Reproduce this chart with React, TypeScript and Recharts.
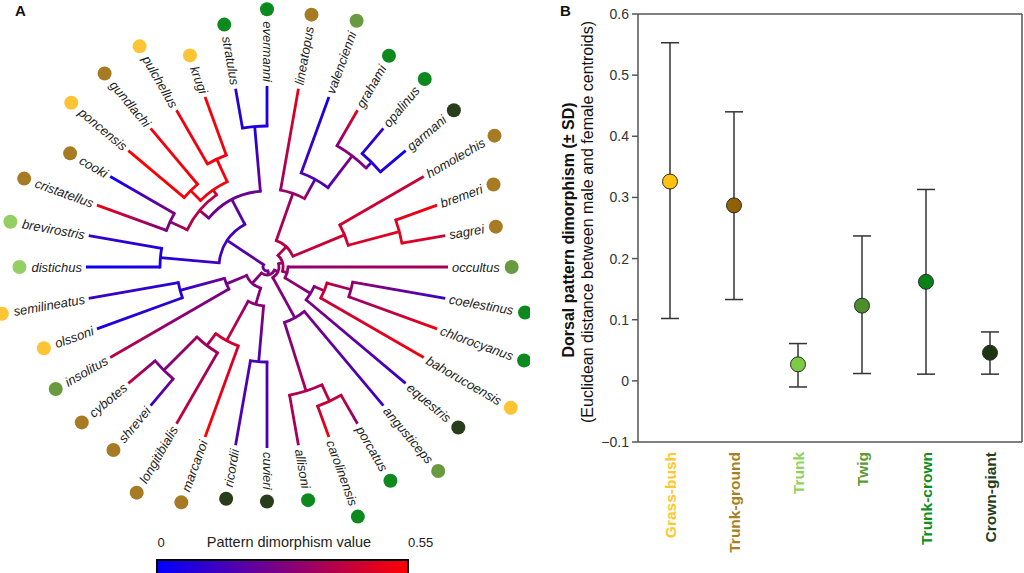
import React from 'react';
import { ScatterChart, Scatter, XAxis, YAxis, ComposedChart, Line, ErrorBar, ReferenceLine } from 'recharts';

const FONT = '"Liberation Sans", Arial, Helvetica, sans-serif';

// ---------------- Panel A data ----------------
const SPECIES = [
  'lineatopus', 'valencienni', 'grahami', 'opalinus', 'garmani', 'homolechis', 'bremeri', 'sagrei',
  'occultus', 'coelestinus', 'chlorocyanus', 'bahorucoensis', 'equestris', 'angusticeps', 'porcatus',
  'carolinensis', 'allisoni', 'cuvieri', 'ricordii', 'marcanoi', 'longitibialis', 'shrevei', 'cybotes',
  'insolitus', 'olssoni', 'semilineatus', 'distichus', 'brevirostris', 'cristatellus', 'cooki',
  'poncensis', 'gundlachi', 'pulchellus', 'krugi', 'stratulus', 'evermanni',
];
const SPECIES_ECOMORPH = [
  'Trunk-ground', 'Twig', 'Trunk-crown', 'Trunk-crown', 'Crown-giant', 'Trunk-ground', 'Trunk-ground', 'Trunk-ground',
  'Twig', 'Trunk-crown', 'Trunk-crown', 'Grass-bush', 'Crown-giant', 'Twig', 'Trunk-crown',
  'Trunk-crown', 'Trunk-crown', 'Crown-giant', 'Crown-giant', 'Trunk-ground', 'Trunk-ground', 'Trunk-ground', 'Trunk-ground',
  'Twig', 'Grass-bush', 'Grass-bush', 'Trunk', 'Trunk', 'Trunk-ground', 'Trunk-ground',
  'Grass-bush', 'Trunk-ground', 'Grass-bush', 'Grass-bush', 'Trunk-crown', 'Trunk-crown',
];
const SPECIES_DIMORPHISM = [
  0.50, 0.03, 0.50, 0.12, 0.03, 0.42, 0.53, 0.44,
  0.36, 0.12, 0.52, 0.53, 0.12, 0.13, 0.30,
  0.54, 0.34, 0.14, 0.18, 0.55, 0.42, 0.10, 0.44,
  0.40, 0.06, 0.13, 0.02, 0.12, 0.52, 0.02,
  0.55, 0.52, 0.52, 0.53, 0.10, 0.03,
];
// tree: [node radius, ...children]
const CLADE_U: any = [28, [78, 'lineatopus', [100, 'valencienni', [140, 'grahami', [148, 'opalinus', 'garmani']]]], [84, 'homolechis', [137, 'bremeri', 'sagrei']]];
const CLADE_R: any = [21, 'occultus', [51, [62, [87, 'coelestinus', 'chlorocyanus'], 'bahorucoensis'], 'equestris']];
const CLADE_AP: any = [58, 'angusticeps', [130, [148, 'porcatus', 'carolinensis'], 'allisoni']];
const CLADE_M: any = [22, [39, [95, 'cuvieri', 'ricordii'], [84, 'marcanoi', [99, 'longitibialis', [146, 'shrevei', 'cybotes']]]], [44, 'insolitus', [90, 'olssoni', 'semilineatus']]];
const CLADE_L: any = [48, [107, 'distichus', 'brevirostris'], [76, [88, [107, 'cristatellus', 'cooki'], [94, [108, 'poncensis', 'gundlachi'], [119, 'pulchellus', 'krugi']]], [141, 'stratulus', 'evermanni']]];
const TREE: any = [4, [8, [12, [16, CLADE_U, CLADE_R], CLADE_AP], CLADE_M], CLADE_L];

const ECO_NAMES = ['Grass-bush', 'Trunk-ground', 'Trunk', 'Twig', 'Trunk-crown', 'Crown-giant'];
const ECO_TREE_COLORS = ['#FEC433', '#A67B24', '#93CF62', '#6A9A3F', '#0C8A1E', '#283D19'];

// ---------------- Panel B data ----------------
const ECO_LABEL_COLORS = ['#FFC72C', '#A77F26', '#8FD35E', '#5C9A34', '#0E8E1C', '#24401A'];
const ECO_DOT_COLORS = ['#FFC20F', '#8F6100', '#7DCB45', '#4D8E2A', '#0A8019', '#1D3611'];
const ECO_MEAN = [0.326, 0.287, 0.027, 0.123, 0.162, 0.046];
const ECO_SD_LOW = [0.102, 0.133, -0.010, 0.012, 0.011, 0.011];
const ECO_SD_HIGH = [0.553, 0.440, 0.061, 0.237, 0.313, 0.080];
const Y_TICKS = [-0.1, 0, 0.1, 0.2, 0.3, 0.4, 0.5, 0.6];
const Y_MIN = -0.1;
const Y_MAX = 0.6;
const LEGEND_MIN = 0;
const LEGEND_MAX = 0.55;

// ---------------- helpers ----------------
const FIRST_ANGLE = 280;
const STEP = 10;
const TIP_R = 181;
const LABEL_R = 185;
const LABEL_SIZE = 13;

function valColor(v: number) {
  const t = Math.max(0, Math.min(1, (v - LEGEND_MIN) / (LEGEND_MAX - LEGEND_MIN)));
  return `rgb(${Math.round(255 * t)},0,${Math.round(255 * (1 - t))})`;
}
const CW: Record<string, number> = {
  a: .556, b: .556, c: .5, d: .556, e: .556, f: .278, g: .556, h: .556, i: .222, j: .222, k: .5, l: .222, m: .833,
  n: .556, o: .556, p: .556, q: .556, r: .333, s: .5, t: .278, u: .556, v: .5, w: .722, x: .5, y: .5, z: .5,
};
function textWidth(s: string, size: number) {
  let w = 0;
  for (const ch of s) w += CW[ch] ?? 0.556;
  return w * size;
}
const rad = (d: number) => (d * Math.PI) / 180;

interface LNode { id: number; r: number; angle: number; value: number; parent: number | null; a0: number; a1: number; leaf: boolean; }
function layoutTree(): any[] {
  const list: LNode[] = [];
  const build = (n: any, parent: number | null): number => {
    const id = list.length;
    if (typeof n === 'string') {
      const i = SPECIES.indexOf(n);
      const a = FIRST_ANGLE + i * STEP;
      list.push({ id, r: TIP_R, angle: a, value: SPECIES_DIMORPHISM[i], parent, a0: a, a1: a, leaf: true });
      return id;
    }
    const [r, ...kids] = n;
    const node: LNode = { id, r, angle: 0, value: 0, parent, a0: 0, a1: 0, leaf: false };
    list.push(node);
    const ids = kids.map((k: any) => build(k, id));
    const angles = ids.map((k: number) => list[k].angle);
    node.a0 = Math.min(...angles);
    node.a1 = Math.max(...angles);
    node.angle = (node.a0 + node.a1) / 2;
    node.value = ids.reduce((s: number, k: number) => s + list[k].value, 0) / ids.length;
    return id;
  };
  build(TREE, null);
  return list.map((n) => ({
    ...n,
    x: n.r * Math.cos(rad(n.angle)),
    y: n.r * Math.sin(rad(n.angle)),
    pr: n.parent == null ? null : list[n.parent].r,
    pv: n.parent == null ? null : list[n.parent].value,
  }));
}
const treeData = layoutTree();
const labelData = SPECIES.map((name, i) => {
  const a = FIRST_ANGLE + i * STEP;
  return { name, angle: a, x: LABEL_R * Math.cos(rad(a)), y: LABEL_R * Math.sin(rad(a)) };
});
const dotData = SPECIES.map((name, i) => {
  const a = FIRST_ANGLE + i * STEP;
  const r = LABEL_R + textWidth(name, LABEL_SIZE) + 12;
  return { name, eco: SPECIES_ECOMORPH[i], x: r * Math.cos(rad(a)), y: r * Math.sin(rad(a)) };
});
const ecoData = ECO_NAMES.map((name, i) => ({
  name,
  mean: ECO_MEAN[i],
  err: [ECO_MEAN[i] - ECO_SD_LOW[i], ECO_SD_HIGH[i] - ECO_MEAN[i]],
}));

// ---------------- shapes ----------------
function TreeShape(props: any) {
  const { cx, cy, payload } = props;
  if (cx == null || cy == null) return null;
  const ox = cx - payload.x;
  const oy = cy - payload.y;
  const pt = (r: number, a: number) => [ox + r * Math.cos(rad(a)), oy + r * Math.sin(rad(a))];
  const col = valColor(payload.value);
  const parts: any[] = [];
  if (payload.pr != null) {
    const [x1, y1] = pt(payload.pr, payload.angle);
    const [x2, y2] = pt(payload.r, payload.angle);
    const gid = `branch-grad-${payload.id}`;
    parts.push(
      <defs key="d">
        <linearGradient id={gid} gradientUnits="userSpaceOnUse" x1={x1} y1={y1} x2={x2} y2={y2}>
          <stop offset="0%" stopColor={valColor(payload.pv)} />
          <stop offset="100%" stopColor={col} />
        </linearGradient>
      </defs>
    );
    parts.push(<line key="l" x1={x1} y1={y1} x2={x2} y2={y2} stroke={`url(#${gid})`} strokeWidth={2.8} />);
  }
  if (!payload.leaf) {
    const [sx, sy] = pt(payload.r, payload.a0);
    const [ex, ey] = pt(payload.r, payload.a1);
    const large = payload.a1 - payload.a0 > 180 ? 1 : 0;
    parts.push(
      <path key="a" d={`M${sx},${sy} A${payload.r},${payload.r} 0 ${large} 1 ${ex},${ey}`} fill="none"
        stroke={col} strokeWidth={2.8} strokeLinecap="square" />
    );
  }
  return <g>{parts}</g>;
}

function LabelShape(props: any) {
  const { cx, cy, payload } = props;
  if (cx == null || cy == null) return null;
  const a = ((payload.angle % 360) + 360) % 360;
  const flip = a > 90 && a <= 270;
  const rot = flip ? a - 180 : a;
  return (
    <text x={cx} y={cy} transform={`rotate(${rot} ${cx} ${cy})`} textAnchor={flip ? 'end' : 'start'}
      dominantBaseline="central" fontStyle="italic" fontSize={LABEL_SIZE} fill="#1c1c1c" fontFamily={FONT}>
      {payload.name}
    </text>
  );
}

function DotShape(props: any) {
  const { cx, cy, payload } = props;
  if (cx == null || cy == null) return null;
  return <circle cx={cx} cy={cy} r={7} fill={ECO_TREE_COLORS[ECO_NAMES.indexOf(payload.eco)]} />;
}

function EcoTick(props: any) {
  const { x, y, payload, index } = props;
  const ty = y + 2;
  return (
    <text x={x} y={ty} transform={`rotate(-90 ${x} ${ty})`} textAnchor="end" dominantBaseline="central"
      fontSize={15.5} fontWeight="bold" fill={ECO_LABEL_COLORS[index]} fontFamily={FONT}>
      {payload.value}
    </text>
  );
}

function EcoDot(props: any) {
  const { cx, cy, index } = props;
  if (cx == null || cy == null) return null;
  return <circle key={`d${index}`} cx={cx} cy={cy} r={7.5} fill={ECO_DOT_COLORS[index]} stroke="#2a2a2a" strokeWidth={1} />;
}

function YLabel(props: any) {
  const vb = props.viewBox || { x: 20, y: 14, width: 78, height: 428 };
  const x1 = vb.x + 8;
  const x2 = vb.x + 27;
  const yc = vb.y + vb.height / 2;
  return (
    <g>
      <text x={x1} y={yc + 2} transform={`rotate(-90 ${x1} ${yc + 2})`} textAnchor="middle" dominantBaseline="central"
        fontSize={16} fontWeight="bold" fill="#111" fontFamily={FONT}>Dorsal pattern dimorphism (± SD)</text>
      <text x={x2} y={yc - 6} transform={`rotate(-90 ${x2} ${yc - 6})`} textAnchor="middle" dominantBaseline="central"
        fontSize={16} fill="#111" fontFamily={FONT}>(Euclidean distance between male and female centroids)</text>
    </g>
  );
}

const fmtY = (v: number) => (v === 0 ? '0' : v < 0 ? '\u2212' + Math.abs(v).toFixed(1) : v.toFixed(1));

export default function App() {
  return (
    <div style={{ position: 'absolute', left: 0, top: 0, width: 1024, height: 573, background: '#fff', fontFamily: FONT, overflow: 'hidden' }}>
      <div style={{ position: 'absolute', left: 0, top: 0 }}>
        <ScatterChart width={530} height={573} margin={{ top: 0, right: 0, bottom: 0, left: 0 }}>
          <XAxis type="number" dataKey="x" domain={[-267, 263]} hide allowDataOverflow />
          <YAxis type="number" dataKey="y" domain={[-267, 306]} reversed hide allowDataOverflow />
          <Scatter data={treeData} shape={TreeShape} isAnimationActive={false} />
          <Scatter data={labelData} shape={LabelShape} isAnimationActive={false} />
          <Scatter data={dotData} shape={DotShape} isAnimationActive={false} />
        </ScatterChart>
      </div>
      <svg width={530} height={573} style={{ position: 'absolute', left: 0, top: 0, pointerEvents: 'none' }}>
        <defs>
          <linearGradient id="legendGrad" x1="0" y1="0" x2="1" y2="0">
            <stop offset="0%" stopColor={valColor(LEGEND_MIN)} />
            <stop offset="100%" stopColor={valColor(LEGEND_MAX)} />
          </linearGradient>
        </defs>
        <text x={15} y={16} fontSize={15} fontWeight="bold" fill="#111" fontFamily={FONT}>A</text>
        <text x={161} y={547} textAnchor="middle" fontSize={13} fill="#222" fontFamily={FONT}>{String(LEGEND_MIN)}</text>
        <text x={289} y={547} textAnchor="middle" fontSize={14.5} fill="#222" fontFamily={FONT}>Pattern dimorphism value</text>
        <text x={408} y={547} textAnchor="start" fontSize={13} fill="#222" fontFamily={FONT}>{String(LEGEND_MAX)}</text>
        <rect x={157} y={560} width={251} height={20} fill="url(#legendGrad)" stroke="#000" strokeWidth={2} />
      </svg>
      <div style={{ position: 'absolute', left: 540, top: 0 }}>
        <ComposedChart width={484} height={573} data={ecoData} margin={{ top: 14, right: 0, bottom: 0, left: 20 }}>
          <XAxis dataKey="name" scale="band" interval={0} tickLine={false} axisLine={{ stroke: '#555', strokeWidth: 1.5 }} height={131} tick={<EcoTick />} />
          <YAxis domain={[Y_MIN, Y_MAX]} ticks={Y_TICKS} width={78} tickSize={6} tickMargin={3} allowDataOverflow
            tick={{ fontSize: 14, fill: '#333', fontFamily: FONT }} tickFormatter={fmtY}
            axisLine={{ stroke: '#555', strokeWidth: 1.5 }} tickLine={{ stroke: '#555', strokeWidth: 1.5 }}
            label={{ content: (p: any) => <YLabel {...p} /> }} />
          <YAxis yAxisId="right" orientation="right" width={2} domain={[Y_MIN, Y_MAX]} tick={false} tickLine={false} allowDataOverflow
            axisLine={{ stroke: '#555', strokeWidth: 1.5 }} />
          <ReferenceLine y={Y_MAX} stroke="#555" strokeWidth={1.5} ifOverflow="visible" />
          <Line dataKey="mean" stroke="none" dot={(p: any) => <EcoDot {...p} />} activeDot={false} isAnimationActive={false}>
            <ErrorBar dataKey="err" width={9} stroke="#333" strokeWidth={1.5} />
          </Line>
        </ComposedChart>
        <svg width={40} height={24} style={{ position: 'absolute', left: 14, top: 0 }}>
          <text x={6} y={16} fontSize={15} fontWeight="bold" fill="#111" fontFamily={FONT}>B</text>
        </svg>
      </div>
    </div>
  );
}
